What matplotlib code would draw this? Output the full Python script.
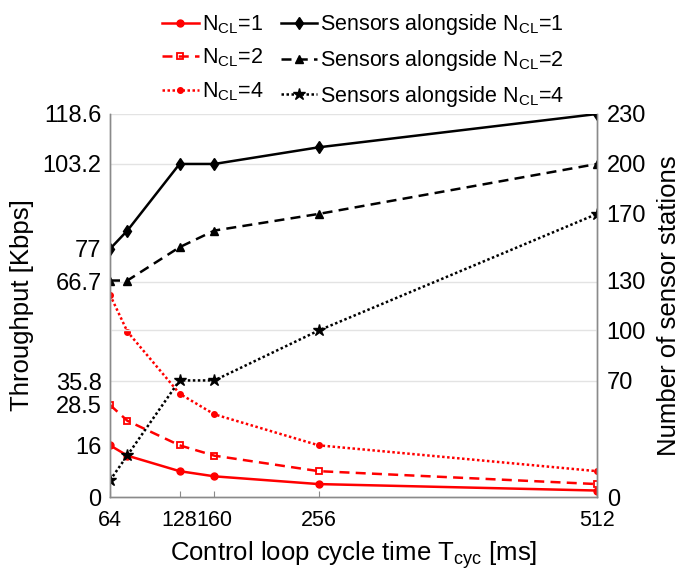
import numpy as np
import matplotlib
matplotlib.use('Agg')
import matplotlib.pyplot as plt

plt.rcParams['font.family'] = ['Liberation Sans', 'DejaVu Sans']
plt.rcParams['mathtext.fontset'] = 'custom'
plt.rcParams['mathtext.rm'] = 'Liberation Sans'
plt.rcParams['mathtext.it'] = 'Liberation Sans:italic'

# cycle time [ms]
t_cyc = [64, 80, 128, 160, 256, 512]

# throughput [Kbps]
thr_ncl1 = [16, 12.8, 8, 6.4, 4, 2]
thr_ncl2 = [28.5, 23.6, 16, 12.8, 8, 4]
thr_ncl4 = [62.6, 51.2, 32, 25.6, 16, 8]

# number of sensor stations
sens_ncl1 = [149, 160, 200, 200, 210, 230]
sens_ncl2 = [130, 130, 150, 160, 170, 200]
sens_ncl4 = [10, 25, 70, 70, 100, 170]

left_ticks = [0, 16, 28.5, 35.8, 66.7, 77, 103.2, 118.6]
left_ticklabels = ['0', '16', '28.5', '35.8', '66.7', '77', '103.2', '118.6']
right_ticks = [0, 70, 100, 130, 170, 200, 230]
x_ticks = [64, 128, 160, 256, 512]

fig = plt.figure(figsize=(6.99, 5.80), dpi=100)
ax = fig.add_axes([110/699, 1 - 497/580, 487/699, 383/580])
ax2 = ax.twinx()

grid_c = '#e3e3e3'
for g in [35.8, 66.7, 103.2, 118.6]:
    ax.axhline(g, color=grid_c, lw=1, zorder=0)
ax2.axhline(100, color=grid_c, lw=1, zorder=0)

red = '#ff0000'
dot = (0, (1, 1))
dash = (0, (4, 2.5))
h1, = ax.plot(t_cyc, thr_ncl1, color=red, ls='-', lw=1.8, marker='o', ms=5)
h2, = ax.plot(t_cyc, thr_ncl2, color=red, ls=dash, lw=1.8, marker='s', ms=5,
              mfc='none', mew=1.3)
h3, = ax.plot(t_cyc, thr_ncl4, color=red, ls=dot, lw=1.8, marker='o', ms=4)

k1, = ax2.plot(t_cyc, sens_ncl1, color='k', ls='-', lw=1.8, marker='d', ms=6)
k2, = ax2.plot(t_cyc, sens_ncl2, color='k', ls=dash, lw=1.8, marker='^', ms=6)
k3, = ax2.plot(t_cyc, sens_ncl4, color='k', ls=dot, lw=1.8, marker='*', ms=9)

ax.set_xlim(64, 512)
ax.set_ylim(0, 118.6)
ax2.set_ylim(0, 230)
ax.set_xticks(x_ticks)
ax.set_xticklabels([str(v) for v in x_ticks])
ax.set_yticks(left_ticks)
ax.set_yticklabels(left_ticklabels)
ax2.set_yticks(right_ticks)

for a in (ax, ax2):
    a.spines['top'].set_visible(False)
    for s in ('left', 'right', 'bottom'):
        a.spines[s].set_color('#8a8a8a')
        a.spines[s].set_linewidth(1)
ax.tick_params(axis='x', direction='in', length=4, color='#8a8a8a', labelsize=15.5, pad=9)
ax.tick_params(axis='y', length=0, labelsize=17, pad=6)
ax2.tick_params(axis='y', length=0, labelsize=17, pad=7)

ax.set_xlabel(r'Control loop cycle time T$_{\mathrm{cyc}}$ [ms]', fontsize=18.5, labelpad=6)
ax.set_ylabel('Throughput [Kbps]', fontsize=18.5, labelpad=6)
ax2.set_ylabel('Number of sensor stations', fontsize=18.5, labelpad=8)

labels = [r'N$_{\mathrm{CL}}$=1', r'N$_{\mathrm{CL}}$=2', r'N$_{\mathrm{CL}}$=4',
          r'Sensors alongside N$_{\mathrm{CL}}$=1',
          r'Sensors alongside N$_{\mathrm{CL}}$=2',
          r'Sensors alongside N$_{\mathrm{CL}}$=4']
fig.legend([h1, h2, h3, k1, k2, k3], labels, ncol=2, loc='upper center',
           bbox_to_anchor=(0.52, 1.012), frameon=False, fontsize=15.5,
           handlelength=1.7, handletextpad=0.15, columnspacing=0.8,
           labelspacing=0.5)

fig.savefig('out.png', dpi=100)
